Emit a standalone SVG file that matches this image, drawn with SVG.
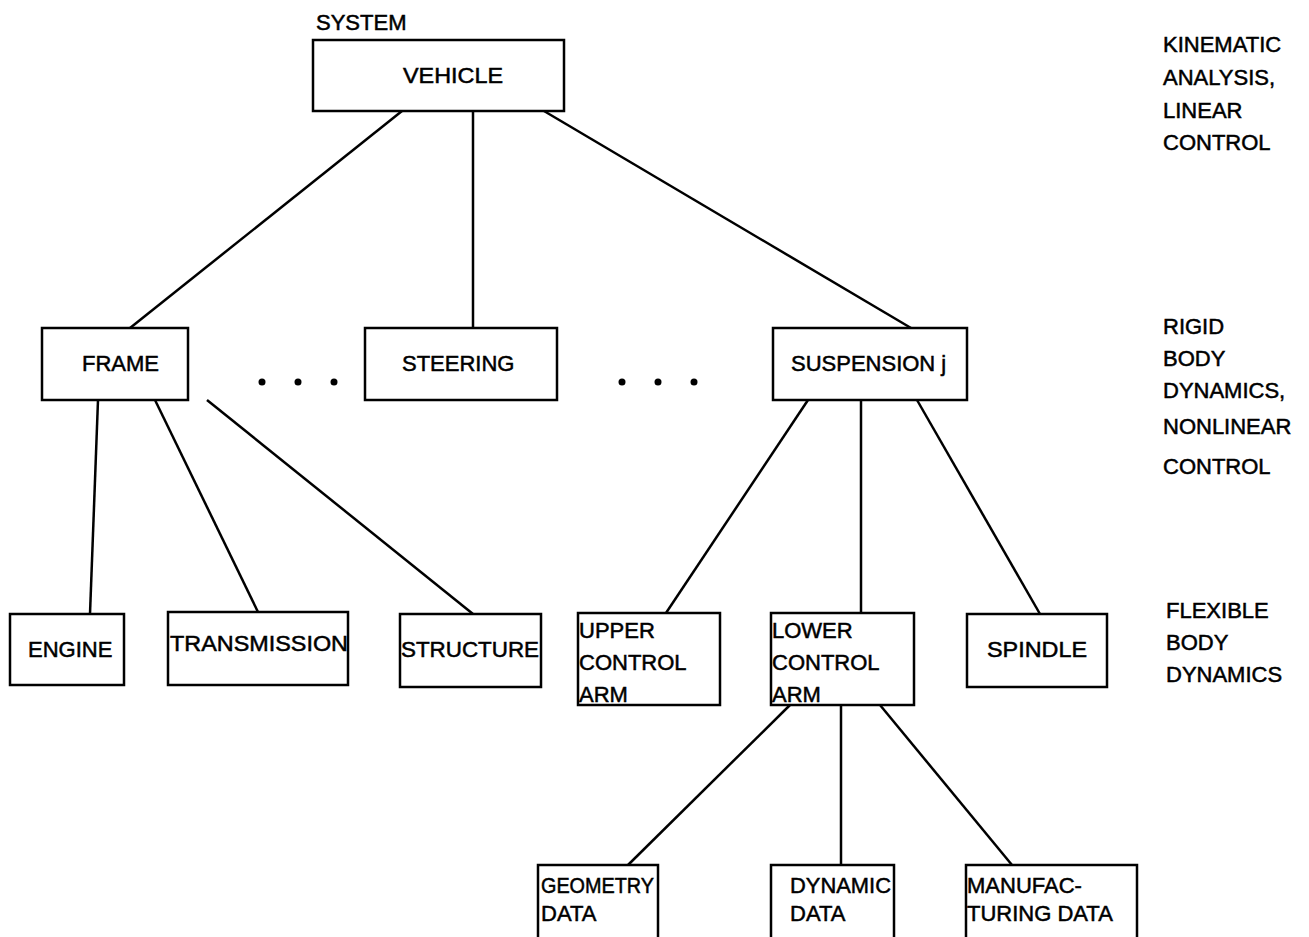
<svg xmlns="http://www.w3.org/2000/svg" width="1309" height="937" viewBox="0 0 1309 937">
<style>
rect{fill:#fff;stroke:#000;stroke-width:2.5}
line{stroke:#000;stroke-width:2.5}
text{font-family:"Liberation Sans",Arial,sans-serif;font-size:22px;fill:#000;stroke:#000;stroke-width:0.5}
.dot{fill:#000}
</style>
<rect x="0" y="0" width="1309" height="937" style="stroke:none"/>
<g id="connectors">
<line x1="402" y1="111" x2="130" y2="328"/>
<line x1="473" y1="111" x2="473" y2="328"/>
<line x1="544" y1="111" x2="911" y2="328"/>
<line x1="98" y1="400" x2="90" y2="614"/>
<line x1="155" y1="400" x2="258" y2="612"/>
<line x1="207" y1="400" x2="473" y2="614"/>
<line x1="808" y1="400" x2="666" y2="613"/>
<line x1="861" y1="400" x2="861" y2="613"/>
<line x1="917" y1="400" x2="1040" y2="614"/>
<line x1="790" y1="705" x2="628" y2="865"/>
<line x1="841" y1="705" x2="841" y2="865"/>
<line x1="880" y1="705" x2="1012" y2="865"/>
</g>
<g id="system-label"><text x="316" y="30">SYSTEM</text></g>
<g id="vehicle"><rect x="313" y="40" width="251" height="71"/><text x="403" y="83" textLength="100" lengthAdjust="spacingAndGlyphs">VEHICLE</text></g>
<g id="frame"><rect x="42" y="328" width="146" height="72"/><text x="82" y="371">FRAME</text></g>
<g id="steering"><rect x="365" y="328" width="192" height="72"/><text x="402" y="371">STEERING</text></g>
<g id="suspension"><rect x="773" y="328" width="194" height="72"/><text x="791" y="371">SUSPENSION j</text></g>
<g id="dots1"><circle class="dot" cx="262" cy="382" r="3.5"/><circle class="dot" cx="298" cy="382" r="3.5"/><circle class="dot" cx="334" cy="382" r="3.5"/></g>
<g id="dots2"><circle class="dot" cx="622" cy="382" r="3.5"/><circle class="dot" cx="658" cy="382" r="3.5"/><circle class="dot" cx="694" cy="382" r="3.5"/></g>
<g id="engine"><rect x="10" y="614" width="114" height="71"/><text x="28" y="657">ENGINE</text></g>
<g id="transmission"><rect x="168" y="612" width="180" height="73"/><text x="170" y="651" textLength="178" lengthAdjust="spacingAndGlyphs">TRANSMISSION</text></g>
<g id="structure"><rect x="400" y="614" width="141" height="73"/><text x="401" y="657" textLength="138" lengthAdjust="spacingAndGlyphs">STRUCTURE</text></g>
<g id="upper"><rect x="578" y="613" width="142" height="92"/><text x="579" y="638">UPPER</text><text x="579" y="670">CONTROL</text><text x="579" y="702">ARM</text></g>
<g id="lower"><rect x="771" y="613" width="143" height="92"/><text x="772" y="638">LOWER</text><text x="772" y="670">CONTROL</text><text x="772" y="702">ARM</text></g>
<g id="spindle"><rect x="967" y="614" width="140" height="73"/><text x="987" y="657" textLength="100" lengthAdjust="spacingAndGlyphs">SPINDLE</text></g>
<g id="geometry"><rect x="538" y="865" width="120" height="80"/><text x="541" y="893" textLength="113" lengthAdjust="spacingAndGlyphs">GEOMETRY</text><text x="541" y="921">DATA</text></g>
<g id="dynamic"><rect x="771" y="865" width="123" height="80"/><text x="790" y="893" textLength="101" lengthAdjust="spacingAndGlyphs">DYNAMIC</text><text x="790" y="921">DATA</text></g>
<g id="manufacturing"><rect x="966" y="865" width="171" height="80"/><text x="967" y="893">MANUFAC-</text><text x="967" y="921">TURING DATA</text></g>
<g id="levels">
<text x="1163" y="52">KINEMATIC</text>
<text x="1163" y="85">ANALYSIS,</text>
<text x="1163" y="118">LINEAR</text>
<text x="1163" y="150">CONTROL</text>
<text x="1163" y="334">RIGID</text>
<text x="1163" y="366">BODY</text>
<text x="1163" y="398">DYNAMICS,</text>
<text x="1163" y="434">NONLINEAR</text>
<text x="1163" y="474">CONTROL</text>
<text x="1166" y="618">FLEXIBLE</text>
<text x="1166" y="650">BODY</text>
<text x="1166" y="682">DYNAMICS</text>
</g>
</svg>
